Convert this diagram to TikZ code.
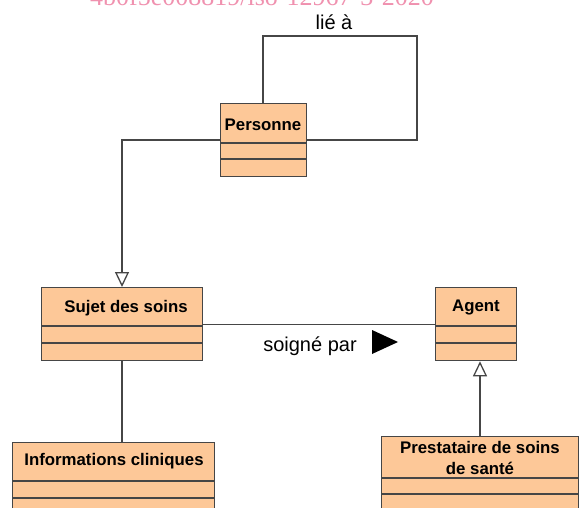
\documentclass[tikz,border=0pt]{standalone}
\usepackage{fontspec}
\setmainfont{Liberation Sans}
\newfontfamily\wmfont{Liberation Serif}
\usetikzlibrary{arrows.meta}
\definecolor{clsfill}{RGB}{253,200,152}
\definecolor{clsline}{RGB}{70,70,70}
\definecolor{wmpink}{RGB}{240,145,175}
\tikzset{
  cls/.style={draw=clsline, fill=clsfill, line width=1.3pt, inner sep=0pt, anchor=north west},
  hdr/.style={font=\fontsize{16.8}{21}\selectfont\bfseries, inner sep=0pt, align=center},
  lbl/.style={font=\fontsize{20}{23}\selectfont, inner sep=0pt},
  conn/.style={draw=clsline, line width=1.3pt},
  gen/.style={conn, -{Triangle[open, length=15pt, width=14pt, fill=white]}},
}
\begin{document}
\begin{tikzpicture}[x=1pt,y=-1pt]
\clip (0,0) rectangle (579,508);
\fill[white] (0,0) rectangle (579,508);
% watermark
\node[anchor=base west, inner sep=0pt, text=wmpink, font=\wmfont\fontsize{26}{26}\selectfont] (wm) at (90,6) {4b0f5e008819/iso-12967-3-2020};
% classes
\node[cls, minimum width=86pt, minimum height=73pt] (pers) at (220,103) {};
\draw[clsline, line width=1.3pt] (220,143) -- (306,143) (220,159) -- (306,159);
\node[hdr] (pers-t) at (263,125) {Personne};

\node[cls, minimum width=161pt, minimum height=73pt] (suj) at (41,287) {};
\draw[clsline, line width=1.3pt] (41,326) -- (202,326) (41,343) -- (202,343);
\node[hdr] (suj-t) at (126,308) {Sujet des soins};

\node[cls, minimum width=81pt, minimum height=73pt] (agent) at (435,287) {};
\draw[clsline, line width=1.3pt] (435,326) -- (516,326) (435,343) -- (516,343);
\node[hdr] (agent-t) at (476,308) {Agent};

\node[cls, minimum width=202pt, minimum height=80pt] (info) at (12,442) {};
\draw[clsline, line width=1.3pt] (12,481) -- (214,481) (12,498) -- (214,498);
\node[hdr] (info-t) at (114,461) {Informations cliniques};

\node[cls, minimum width=197pt, minimum height=86pt] (prest) at (381,436) {};
\draw[clsline, line width=1.3pt] (381,478) -- (578,478) (381,494) -- (578,494);
\node[hdr] (prest-t) at (480,457.5) {Prestataire de soins\\de santé};

% connectors
\coordinate (loopA) at (263,36);
\coordinate (loopB) at (417,36);
\draw[conn] (pers.north -| loopA) -- (loopA) -- (loopB) |- (pers.east);
\node[lbl] (lie) at (334,22) {lié à};

\coordinate (genA) at (122,0);
\draw[gen] (pers.west) -| (genA |- suj.north);

\draw[conn] (suj.east) -- (agent.west);
\node[lbl] (soigne) at (310,346) {soigné par};
\fill (372,330) -- (398,342) -- (372,354) -- cycle;

\draw[conn] (genA |- suj.south) -- (genA |- info.north);

\coordinate (genB) at (480,0);
\draw[gen] (genB |- prest.north) -- (genB |- agent.south);
\end{tikzpicture}
\end{document}
